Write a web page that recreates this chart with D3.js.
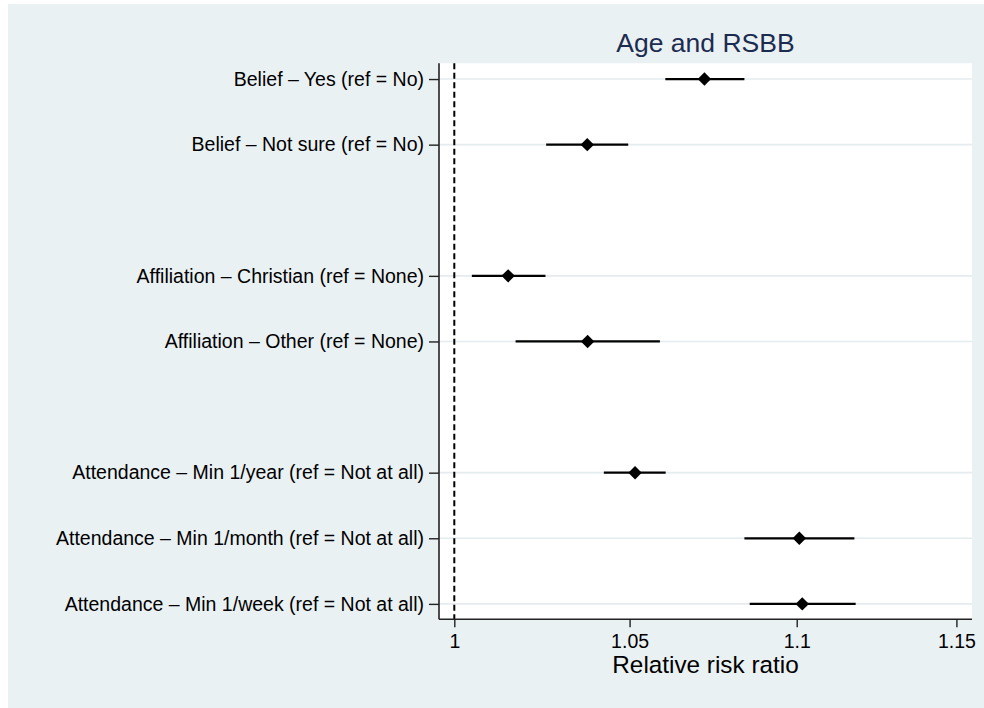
<!DOCTYPE html>
<html>
<head>
<meta charset="utf-8">
<script src="https://cdn.jsdelivr.net/npm/d3@7"></script>
<style>
  body { margin: 0; background: #fff; }
  svg { display: block; font-family: "Liberation Sans", Arial, Helvetica, sans-serif; }
</style>
</head>
<body>
<svg id="chart"></svg>
<script>
// coefficients (relative risk ratios)
var labels = [
  "Belief \u2013 Yes (ref = No)",
  "Belief \u2013 Not sure (ref = No)",
  "Affiliation \u2013 Christian (ref = None)",
  "Affiliation \u2013 Other (ref = None)",
  "Attendance \u2013 Min 1/year (ref = Not at all)",
  "Attendance \u2013 Min 1/month (ref = Not at all)",
  "Attendance \u2013 Min 1/week (ref = Not at all)"
];
var rowPos = [0, 1, 3, 4, 6, 7, 8];   // blank rows between groups
var est = [1.0721, 1.0377, 1.0151, 1.0378, 1.0516, 1.1008, 1.1017];
var lo  = [1.0605, 1.0259, 1.0049, 1.0172, 1.0425, 1.0841, 1.0857];
var hi  = [1.0841, 1.0496, 1.0257, 1.0589, 1.0606, 1.1178, 1.1182];
var xTicks = [1, 1.05, 1.1, 1.15];
var refLine = 1;

var W = 984, H = 708;
var plot = {left: 439, right: 972, top: 63.3, bottom: 619.3};

var svg = d3.select("#chart").attr("width", W).attr("height", H);

// graph region + plot region
svg.append("rect").attr("x", 8).attr("y", 4).attr("width", W - 8).attr("height", H - 4)
  .attr("fill", "#eaf1f3");
svg.append("rect").attr("x", plot.left).attr("y", plot.top)
  .attr("width", plot.right - plot.left).attr("height", plot.bottom - plot.top)
  .attr("fill", "#fff");

var x = d3.scaleLog().domain([0.99575, 1.155]).range([plot.left, plot.right]);
var y = d3.scaleLinear().domain([-0.24, 8.235]).range([plot.top, plot.bottom]);

var rows = labels.map(function(l, i) {
  return {label: l, pos: rowPos[i], est: est[i], lo: lo[i], hi: hi[i]};
});

// gridlines
svg.append("g").selectAll("line").data(rows).join("line")
  .attr("x1", plot.left).attr("x2", plot.right)
  .attr("y1", function(d) { return y(d.pos); })
  .attr("y2", function(d) { return y(d.pos); })
  .attr("stroke", "#e4ecef").attr("stroke-width", 1.6);

// reference line at 1
svg.append("line")
  .attr("x1", x(refLine)).attr("x2", x(refLine))
  .attr("y1", plot.top).attr("y2", plot.bottom)
  .attr("stroke", "#000").attr("stroke-width", 2)
  .attr("stroke-dasharray", "6,3.5");

// y axis
var yAxis = d3.axisLeft(y).tickValues(rowPos).tickSize(10).tickPadding(5)
  .tickFormat(function(d) { return labels[rowPos.indexOf(d)]; });
var gy = svg.append("g").attr("transform", "translate(" + plot.left + ",0)").call(yAxis);
gy.select(".domain").attr("d", "M0," + plot.top + "V" + plot.bottom)
  .attr("stroke", "#222").attr("stroke-width", 1.6);
gy.selectAll(".tick line").attr("stroke", "#222").attr("stroke-width", 1.4);
gy.selectAll(".tick text").attr("font-size", "19.5px").attr("fill", "#000")
  .attr("font-family", "'Liberation Sans', Arial, sans-serif");

// x axis
var xAxis = d3.axisBottom(x).tickValues(xTicks).tickSize(8).tickPadding(7)
  .tickFormat(function(d) { return String(d); });
var gx = svg.append("g").attr("transform", "translate(0," + plot.bottom + ")").call(xAxis);
gx.select(".domain").attr("d", "M" + plot.left + ",0H" + plot.right)
  .attr("stroke", "#222").attr("stroke-width", 1.6);
gx.selectAll(".tick line").attr("stroke", "#222").attr("stroke-width", 1.4);
gx.selectAll(".tick text").attr("font-size", "19.5px").attr("fill", "#000")
  .attr("font-family", "'Liberation Sans', Arial, sans-serif");

// confidence intervals
svg.append("g").selectAll("line").data(rows).join("line")
  .attr("x1", function(d) { return x(d.lo); })
  .attr("x2", function(d) { return x(d.hi); })
  .attr("y1", function(d) { return y(d.pos); })
  .attr("y2", function(d) { return y(d.pos); })
  .attr("stroke", "#000").attr("stroke-width", 2.3);

// point estimates (diamonds)
var diamond = d3.symbol().type(d3.symbolDiamond2).size(115);
svg.append("g").selectAll("path").data(rows).join("path")
  .attr("d", diamond)
  .attr("transform", function(d) { return "translate(" + x(d.est) + "," + y(d.pos) + ")"; })
  .attr("fill", "#000");

// titles
var cx = (plot.left + plot.right) / 2;
svg.append("text").attr("x", cx).attr("y", 52).attr("text-anchor", "middle")
  .attr("font-size", "26.5px").attr("fill", "#1c2c50").text("Age and RSBB");
svg.append("text").attr("x", cx).attr("y", 673).attr("text-anchor", "middle")
  .attr("font-size", "24.3px").attr("fill", "#000").text("Relative risk ratio");
</script>
</body>
</html>
